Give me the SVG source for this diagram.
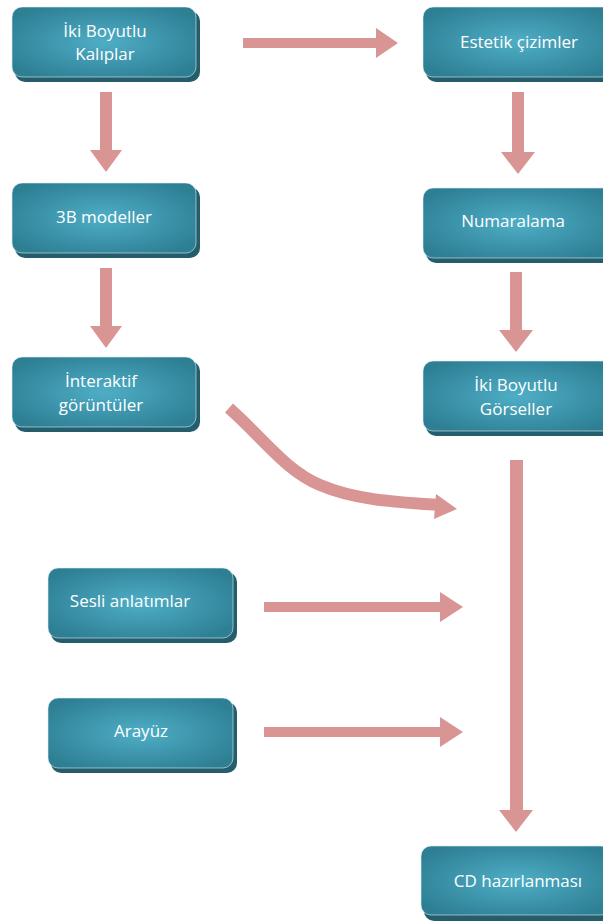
<svg xmlns="http://www.w3.org/2000/svg" width="603" height="923" viewBox="0 0 603 923">
<defs>
<radialGradient id="g" cx="50%" cy="50%" r="60%">
<stop offset="0" stop-color="#4eaec6"/>
<stop offset="1" stop-color="#2e7f94"/>
</radialGradient>
<style>
.sh{fill:#245e6c}
.bx{fill:url(#g);stroke:#d8eef3;stroke-width:1;stroke-opacity:0.6}
.t{font-family:"Open Sans","Noto Sans",sans-serif;font-size:17px;fill:#ffffff;text-anchor:middle}
.a{fill:#d99594}
.c{fill:none;stroke:#d99594;stroke-width:12}
</style>
</defs>
<rect width="603" height="923" fill="#ffffff"/>
<g id="connectors">
<polygon class="a" points="243,38 376,38 376,28 398,43 376,58 376,48 243,48"/>
<polygon class="a" points="100,92 112,92 112,150 122,150 106,172 90,150 100,150"/>
<polygon class="a" points="100,268 112,268 112,326 122,326 106,348 90,326 100,326"/>
<polygon class="a" points="512,92 524,92 524,152 535,152 518,174 501,152 512,152"/>
<polygon class="a" points="510,272 522,272 522,330 533,330 516,352 499,330 510,330"/>
<polygon class="a" points="510,460 523,460 523,810 533,810 516,832 499,810 510,810"/>
<polygon class="a" points="264,602 440,602 440,592 463,607 440,622 440,612 264,612"/>
<polygon class="a" points="264,727 440,727 440,717 463,732 440,747 440,737 264,737"/>
<path class="c" d="M229,408 C265,440 285,470 320,485 C355,500 395,502 440,505"/>
<polygon class="a" points="436,494 457,509 434,519"/>
</g>
<g id="n1"><rect class="sh" x="15" y="11" width="185" height="71" rx="10"/><rect class="bx" x="12" y="7" width="184" height="70" rx="10"/><text class="t" x="105" y="37">İki Boyutlu</text><text class="t" x="105" y="60">Kalıplar</text></g>
<g id="n2"><rect class="sh" x="426" y="11" width="190" height="71" rx="10"/><rect class="bx" x="423" y="7" width="190" height="70" rx="10"/><text class="t" x="519" y="48">Estetik çizimler</text></g>
<g id="n3"><rect class="sh" x="15" y="187" width="185" height="71" rx="10"/><rect class="bx" x="12" y="183" width="184" height="70" rx="10"/><text class="t" x="104" y="223">3B modeller</text></g>
<g id="n4"><rect class="sh" x="426" y="192" width="190" height="71" rx="10"/><rect class="bx" x="423" y="188" width="190" height="70" rx="10"/><text class="t" x="513" y="227">Numaralama</text></g>
<g id="n5"><rect class="sh" x="15" y="361" width="185" height="71" rx="10"/><rect class="bx" x="12" y="357" width="184" height="70" rx="10"/><text class="t" x="101" y="387">İnteraktif</text><text class="t" x="101" y="411">görüntüler</text></g>
<g id="n6"><rect class="sh" x="426" y="365" width="190" height="71" rx="10"/><rect class="bx" x="423" y="361" width="190" height="70" rx="10"/><text class="t" x="516" y="391">İki Boyutlu</text><text class="t" x="516" y="415">Görseller</text></g>
<g id="n7"><rect class="sh" x="51" y="572" width="186" height="71" rx="10"/><rect class="bx" x="48" y="568" width="185" height="70" rx="10"/><text class="t" x="130" y="607">Sesli anlatımlar</text></g>
<g id="n8"><rect class="sh" x="51" y="702" width="186" height="71" rx="10"/><rect class="bx" x="48" y="698" width="185" height="70" rx="10"/><text class="t" x="141" y="737">Arayüz</text></g>
<g id="n9"><rect class="sh" x="424" y="850" width="190" height="71" rx="10"/><rect class="bx" x="421" y="846" width="190" height="69" rx="10"/><text class="t" x="518" y="887">CD hazırlanması</text></g>
</svg>
